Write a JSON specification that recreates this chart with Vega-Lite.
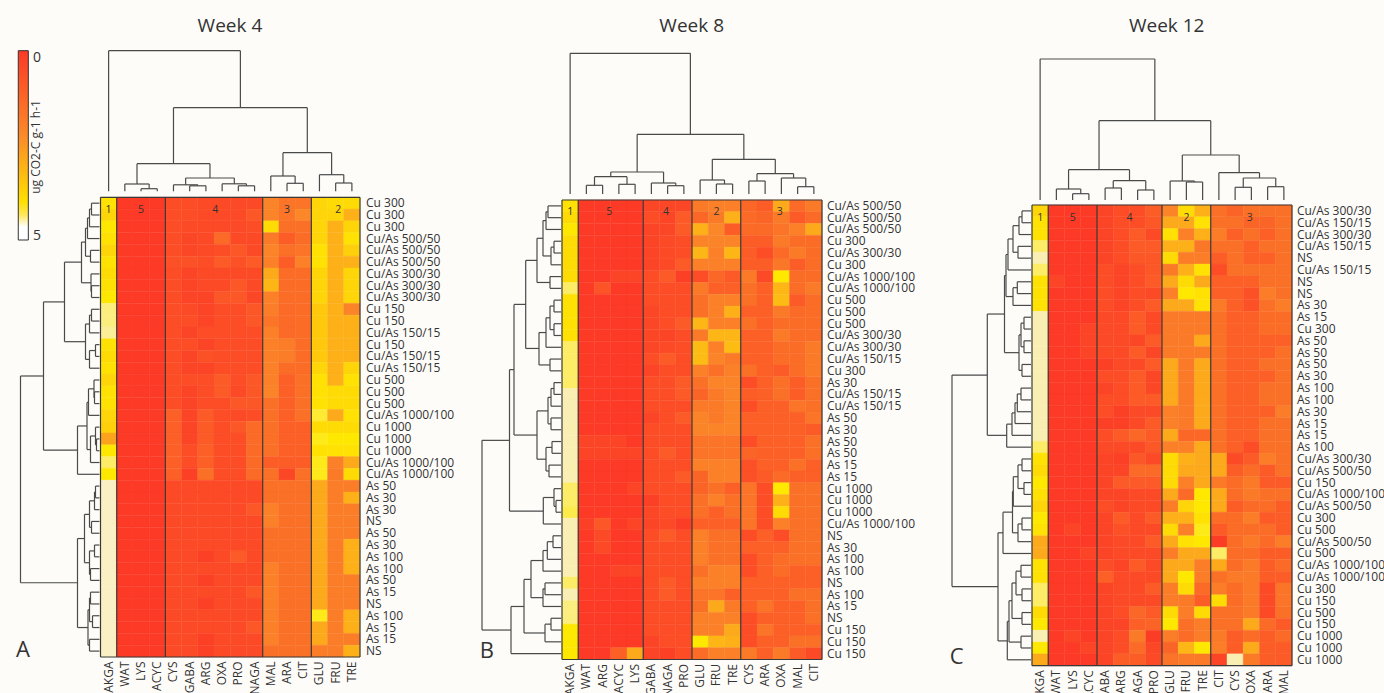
{"$schema":"https://vega.github.io/schema/vega-lite/v6.json","background":"#fdfcf9","padding":0,"bounds":"flush","spacing":0,"config":{"view":{"stroke":null},"font":"Open Sans"},
"datasets":{
"A":[
{"r":0,"l":"Cu 300","AKGA":3.9,"WAT":0,"LYS":0,"ACYC":0,"CYS":0.6,"GABA":0.6,"ARG":0.5,"OXA":0.5,"PRO":0.5,"NAGA":0.5,"MAL":2.3,"ARA":1.8,"CIT":1.8,"GLU":3.7,"FRU":3.8,"TRE":3.8},
{"r":1,"l":"Cu 300","AKGA":3.7,"WAT":0,"LYS":0,"ACYC":0,"CYS":0.6,"GABA":0.6,"ARG":0.5,"OXA":0.5,"PRO":0.5,"NAGA":0.9,"MAL":2.3,"ARA":1.8,"CIT":2.4,"GLU":3.7,"FRU":3.7,"TRE":3.1},
{"r":2,"l":"Cu 300","AKGA":4,"WAT":0,"LYS":0,"ACYC":0,"CYS":0.6,"GABA":0.5,"ARG":0.5,"OXA":0.5,"PRO":0.5,"NAGA":0.6,"MAL":3.8,"ARA":1.7,"CIT":1.7,"GLU":3.7,"FRU":3.1,"TRE":3.7},
{"r":3,"l":"Cu/As 500/50","AKGA":3.9,"WAT":0,"LYS":0,"ACYC":0,"CYS":0.6,"GABA":0.4,"ARG":0.5,"OXA":1.5,"PRO":0.5,"NAGA":0.5,"MAL":2,"ARA":1.1,"CIT":1.6,"GLU":3.7,"FRU":3.1,"TRE":3.9},
{"r":4,"l":"Cu/As 500/50","AKGA":3.7,"WAT":0,"LYS":0,"ACYC":0,"CYS":0.6,"GABA":0.4,"ARG":0.5,"OXA":0.6,"PRO":0.9,"NAGA":0.5,"MAL":2.3,"ARA":1.7,"CIT":1.8,"GLU":3.9,"FRU":3.1,"TRE":3.6},
{"r":5,"l":"Cu/As 500/50","AKGA":3.9,"WAT":0,"LYS":0,"ACYC":0,"CYS":0.7,"GABA":0.7,"ARG":0.6,"OXA":1,"PRO":0.7,"NAGA":1,"MAL":2.2,"ARA":1.1,"CIT":2.2,"GLU":3.9,"FRU":3.1,"TRE":3.1},
{"r":6,"l":"Cu/As 300/30","AKGA":3.8,"WAT":0,"LYS":0,"ACYC":0,"CYS":0.6,"GABA":0.3,"ARG":0.5,"OXA":0.5,"PRO":0.5,"NAGA":0.5,"MAL":3,"ARA":1.6,"CIT":1.6,"GLU":3.7,"FRU":3.1,"TRE":3.7},
{"r":7,"l":"Cu/As 300/30","AKGA":3.9,"WAT":0,"LYS":0,"ACYC":0,"CYS":0.6,"GABA":0.3,"ARG":0.5,"OXA":0.5,"PRO":0.9,"NAGA":0.5,"MAL":3.2,"ARA":1.6,"CIT":1.6,"GLU":3.7,"FRU":3.1,"TRE":3.7},
{"r":8,"l":"Cu/As 300/30","AKGA":4,"WAT":0,"LYS":0,"ACYC":0,"CYS":0.6,"GABA":0.3,"ARG":0.3,"OXA":0.9,"PRO":0.9,"NAGA":0.4,"MAL":2.2,"ARA":1.6,"CIT":1.6,"GLU":3.7,"FRU":3.1,"TRE":3.7},
{"r":9,"l":"Cu 150","AKGA":4.5,"WAT":0,"LYS":0,"ACYC":0,"CYS":0.6,"GABA":0.5,"ARG":0.3,"OXA":0.6,"PRO":0.6,"NAGA":0.9,"MAL":2.1,"ARA":1.5,"CIT":1.6,"GLU":3.5,"FRU":3.1,"TRE":2.3},
{"r":10,"l":"Cu 150","AKGA":4.5,"WAT":0,"LYS":0,"ACYC":0,"CYS":0.6,"GABA":0.6,"ARG":0.3,"OXA":0.6,"PRO":0.6,"NAGA":0.9,"MAL":1.8,"ARA":1.5,"CIT":1.6,"GLU":3.5,"FRU":3.1,"TRE":3.1},
{"r":11,"l":"Cu/As 150/15","AKGA":4.6,"WAT":0,"LYS":0,"ACYC":0,"CYS":0.6,"GABA":0.3,"ARG":0.6,"OXA":0.6,"PRO":0.6,"NAGA":0.6,"MAL":2.2,"ARA":1.5,"CIT":1.6,"GLU":3.5,"FRU":3.1,"TRE":3.1},
{"r":12,"l":"Cu 150","AKGA":3.9,"WAT":0,"LYS":0,"ACYC":0,"CYS":0.6,"GABA":0.6,"ARG":0.3,"OXA":0.6,"PRO":0.6,"NAGA":0.6,"MAL":2.2,"ARA":2.1,"CIT":1.6,"GLU":3.5,"FRU":3.1,"TRE":3.1},
{"r":13,"l":"Cu/As 150/15","AKGA":3.8,"WAT":0,"LYS":0,"ACYC":0,"CYS":0.6,"GABA":0.3,"ARG":0.7,"OXA":0.6,"PRO":0.6,"NAGA":0.6,"MAL":2.2,"ARA":2.1,"CIT":1.6,"GLU":3.5,"FRU":3.1,"TRE":3.1},
{"r":14,"l":"Cu/As 150/15","AKGA":3.9,"WAT":0,"LYS":0,"ACYC":0,"CYS":0.6,"GABA":0.3,"ARG":0.3,"OXA":0.6,"PRO":0.6,"NAGA":0.6,"MAL":2.2,"ARA":1.6,"CIT":1.6,"GLU":3.7,"FRU":3.1,"TRE":3.7},
{"r":15,"l":"Cu 500","AKGA":3.7,"WAT":0,"LYS":0,"ACYC":0,"CYS":0.6,"GABA":0.6,"ARG":0.6,"OXA":1,"PRO":0.6,"NAGA":0.9,"MAL":2.2,"ARA":1.2,"CIT":1.7,"GLU":3.9,"FRU":3.1,"TRE":3.9},
{"r":16,"l":"Cu 500","AKGA":3.9,"WAT":0,"LYS":0,"ACYC":0,"CYS":0.6,"GABA":0.3,"ARG":0.6,"OXA":1,"PRO":0.5,"NAGA":0.9,"MAL":2.3,"ARA":1.2,"CIT":1.7,"GLU":3.9,"FRU":3.8,"TRE":3.8},
{"r":17,"l":"Cu 500","AKGA":3.9,"WAT":0,"LYS":0,"ACYC":0,"CYS":0.6,"GABA":0.3,"ARG":0.6,"OXA":0.6,"PRO":0.9,"NAGA":0.9,"MAL":1.7,"ARA":1.2,"CIT":1.7,"GLU":3.9,"FRU":3.8,"TRE":3.8},
{"r":18,"l":"Cu/As 1000/100","AKGA":3.7,"WAT":0,"LYS":0,"ACYC":0,"CYS":1.2,"GABA":0.3,"ARG":1,"OXA":0.6,"PRO":0.5,"NAGA":0.6,"MAL":1.7,"ARA":1.2,"CIT":1.7,"GLU":4.2,"FRU":3,"TRE":3.9},
{"r":19,"l":"Cu 1000","AKGA":3.6,"WAT":0,"LYS":0,"ACYC":0,"CYS":1.2,"GABA":0.3,"ARG":1,"OXA":0.6,"PRO":0.9,"NAGA":1.5,"MAL":1.7,"ARA":1.2,"CIT":1.2,"GLU":3.8,"FRU":3.8,"TRE":3.8},
{"r":20,"l":"Cu 1000","AKGA":2.9,"WAT":0,"LYS":0,"ACYC":0,"CYS":1.2,"GABA":0.3,"ARG":1,"OXA":0.6,"PRO":0.6,"NAGA":1.5,"MAL":1.7,"ARA":1.2,"CIT":1.2,"GLU":4.1,"FRU":4,"TRE":4},
{"r":21,"l":"Cu 1000","AKGA":4,"WAT":0,"LYS":0,"ACYC":0,"CYS":1.2,"GABA":0.6,"ARG":1.2,"OXA":0.6,"PRO":0.6,"NAGA":1.5,"MAL":1.7,"ARA":1.2,"CIT":1.2,"GLU":3.9,"FRU":3.9,"TRE":3.9},
{"r":22,"l":"Cu/As 1000/100","AKGA":4.4,"WAT":0,"LYS":0,"ACYC":0,"CYS":1.2,"GABA":0.6,"ARG":1.2,"OXA":0.6,"PRO":0.6,"NAGA":1.5,"MAL":1.1,"ARA":1.1,"CIT":1.1,"GLU":4.1,"FRU":2.2,"TRE":3},
{"r":23,"l":"Cu/As 1000/100","AKGA":4,"WAT":0,"LYS":0,"ACYC":0,"CYS":1.2,"GABA":0.2,"ARG":1.7,"OXA":0.6,"PRO":0.6,"NAGA":1.5,"MAL":1.7,"ARA":0.4,"CIT":1.7,"GLU":4.1,"FRU":2,"TRE":3.8},
{"r":24,"l":"As 50","AKGA":4.77,"WAT":0,"LYS":0,"ACYC":0,"CYS":0.5,"GABA":0.5,"ARG":0.5,"OXA":0.5,"PRO":0.5,"NAGA":0.5,"MAL":1.7,"ARA":1.7,"CIT":1.7,"GLU":3,"FRU":2.1,"TRE":2.1},
{"r":25,"l":"As 30","AKGA":4.77,"WAT":0,"LYS":0,"ACYC":0,"CYS":0.5,"GABA":0.5,"ARG":0.5,"OXA":0.5,"PRO":0.5,"NAGA":0.5,"MAL":1.7,"ARA":1.7,"CIT":1.7,"GLU":3,"FRU":2.1,"TRE":3.1},
{"r":26,"l":"As 30","AKGA":4.77,"WAT":0,"LYS":0,"ACYC":0,"CYS":0.5,"GABA":0.5,"ARG":0.5,"OXA":0.5,"PRO":0.5,"NAGA":0.9,"MAL":2.2,"ARA":1.7,"CIT":1.7,"GLU":3,"FRU":2.1,"TRE":2.1},
{"r":27,"l":"NS","AKGA":4.77,"WAT":0,"LYS":0,"ACYC":0,"CYS":0.5,"GABA":0.5,"ARG":0.5,"OXA":0.5,"PRO":0.5,"NAGA":0.5,"MAL":2.2,"ARA":1.7,"CIT":1.7,"GLU":3,"FRU":2.1,"TRE":2.1},
{"r":28,"l":"As 50","AKGA":4.77,"WAT":0,"LYS":0,"ACYC":0,"CYS":0.5,"GABA":0.5,"ARG":0.5,"OXA":0.5,"PRO":0.5,"NAGA":0.5,"MAL":1.7,"ARA":1.7,"CIT":1.7,"GLU":3,"FRU":2.1,"TRE":2.1},
{"r":29,"l":"As 30","AKGA":4.77,"WAT":0,"LYS":0,"ACYC":0,"CYS":0.5,"GABA":0.5,"ARG":0.5,"OXA":0.5,"PRO":0.5,"NAGA":0.5,"MAL":1.7,"ARA":1.7,"CIT":1.7,"GLU":3,"FRU":2.1,"TRE":3.1},
{"r":30,"l":"As 100","AKGA":4.77,"WAT":0,"LYS":0,"ACYC":0,"CYS":0.5,"GABA":0.5,"ARG":0.2,"OXA":0.5,"PRO":1,"NAGA":0.5,"MAL":1.7,"ARA":1.7,"CIT":1.7,"GLU":3,"FRU":2.1,"TRE":3.1},
{"r":31,"l":"As 100","AKGA":4.77,"WAT":0,"LYS":0,"ACYC":0,"CYS":0.5,"GABA":0.5,"ARG":0.5,"OXA":0.5,"PRO":0.5,"NAGA":0.5,"MAL":2.2,"ARA":1.7,"CIT":1.7,"GLU":3,"FRU":2.1,"TRE":3.1},
{"r":32,"l":"As 50","AKGA":4.77,"WAT":0,"LYS":0,"ACYC":0,"CYS":0.5,"GABA":0.5,"ARG":0.2,"OXA":0.5,"PRO":0.5,"NAGA":0.5,"MAL":2.2,"ARA":1.7,"CIT":1.7,"GLU":3,"FRU":2.1,"TRE":2.1},
{"r":33,"l":"As 15","AKGA":4.77,"WAT":0,"LYS":0,"ACYC":0,"CYS":0.5,"GABA":0.5,"ARG":0.5,"OXA":0.5,"PRO":0.5,"NAGA":0.9,"MAL":2.2,"ARA":1.7,"CIT":1.7,"GLU":3,"FRU":2.1,"TRE":2.1},
{"r":34,"l":"NS","AKGA":4.77,"WAT":0,"LYS":0,"ACYC":0,"CYS":0.5,"GABA":0.5,"ARG":0.2,"OXA":0.5,"PRO":0.5,"NAGA":0.5,"MAL":2.2,"ARA":1.7,"CIT":1.7,"GLU":3,"FRU":2.1,"TRE":2.1},
{"r":35,"l":"As 100","AKGA":4.77,"WAT":0,"LYS":0,"ACYC":0,"CYS":0.5,"GABA":0.5,"ARG":0.5,"OXA":0.5,"PRO":0.5,"NAGA":0.5,"MAL":2.2,"ARA":1.7,"CIT":1.7,"GLU":4.1,"FRU":2.1,"TRE":3.1},
{"r":36,"l":"As 15","AKGA":4.77,"WAT":0,"LYS":0,"ACYC":0,"CYS":0.5,"GABA":0.5,"ARG":0.5,"OXA":0.5,"PRO":0.5,"NAGA":0.9,"MAL":2.2,"ARA":1.7,"CIT":1.7,"GLU":3,"FRU":2.1,"TRE":3.1},
{"r":37,"l":"As 15","AKGA":4.77,"WAT":0,"LYS":0,"ACYC":0,"CYS":0.5,"GABA":0.5,"ARG":0.2,"OXA":0.5,"PRO":0.5,"NAGA":0.5,"MAL":2.2,"ARA":1.7,"CIT":1.7,"GLU":3,"FRU":2.1,"TRE":2.1},
{"r":38,"l":"NS","AKGA":4.77,"WAT":0,"LYS":0,"ACYC":0,"CYS":0.5,"GABA":0.5,"ARG":0.2,"OXA":0.5,"PRO":0.5,"NAGA":0.5,"MAL":1.7,"ARA":1.7,"CIT":1.7,"GLU":2.1,"FRU":2.1,"TRE":3.1}
],
"B":[
{"r":0,"l":"Cu/As 500/50","AKGA":3.9,"WAT":0,"ARG":0,"ACYC":0,"LYS":0,"GABA":0.4,"NAGA":0.4,"PRO":0.4,"GLU":2,"FRU":2.2,"TRE":2.2,"CYS":1.4,"ARA":1.1,"OXA":3,"MAL":1.5,"CIT":2},
{"r":1,"l":"Cu/As 500/50","AKGA":3.8,"WAT":0,"ARG":0,"ACYC":0,"LYS":0,"GABA":0.6,"NAGA":0.3,"PRO":1,"GLU":1.4,"FRU":2,"TRE":3.1,"CYS":1.5,"ARA":1.3,"OXA":2,"MAL":1,"CIT":1.5},
{"r":2,"l":"Cu/As 500/50","AKGA":4,"WAT":0,"ARG":0,"ACYC":0,"LYS":0,"GABA":0.3,"NAGA":0.4,"PRO":1,"GLU":3.1,"FRU":2.4,"TRE":1.1,"CYS":1.5,"ARA":1.5,"OXA":1.8,"MAL":2.2,"CIT":3},
{"r":3,"l":"Cu 300","AKGA":3.8,"WAT":0,"ARG":0,"ACYC":0,"LYS":0,"GABA":0.3,"NAGA":0.5,"PRO":0.6,"GLU":2.3,"FRU":2.3,"TRE":2.3,"CYS":1.1,"ARA":1.1,"OXA":2,"MAL":1.6,"CIT":1.6},
{"r":4,"l":"Cu/As 300/30","AKGA":3.8,"WAT":0,"ARG":0,"ACYC":0,"LYS":0,"GABA":0.3,"NAGA":0.5,"PRO":0.6,"GLU":3.2,"FRU":2.2,"TRE":3.2,"CYS":1.1,"ARA":0.6,"OXA":1.5,"MAL":2,"CIT":1.6},
{"r":5,"l":"Cu 300","AKGA":3.8,"WAT":0,"ARG":0,"ACYC":0,"LYS":0,"GABA":0.3,"NAGA":0.5,"PRO":1,"GLU":2.2,"FRU":2.2,"TRE":2.2,"CYS":1.1,"ARA":1.1,"OXA":1.9,"MAL":1.1,"CIT":1.6},
{"r":6,"l":"Cu/As 1000/100","AKGA":3.8,"WAT":0,"ARG":0,"ACYC":0.3,"LYS":0.3,"GABA":0.6,"NAGA":1,"PRO":0.2,"GLU":0.6,"FRU":1.4,"TRE":1,"CYS":2,"ARA":0.5,"OXA":4,"MAL":1.6,"CIT":1.6},
{"r":7,"l":"Cu/As 1000/100","AKGA":4.4,"WAT":0,"ARG":0.8,"ACYC":0,"LYS":0,"GABA":0.6,"NAGA":0.6,"PRO":0.6,"GLU":2,"FRU":1.2,"TRE":1.2,"CYS":1.7,"ARA":1.2,"OXA":3.2,"MAL":1.6,"CIT":2},
{"r":8,"l":"Cu 500","AKGA":3.9,"WAT":0,"ARG":0,"ACYC":0,"LYS":0,"GABA":0.6,"NAGA":0.6,"PRO":0.6,"GLU":1.7,"FRU":2.2,"TRE":2.2,"CYS":1.7,"ARA":1.2,"OXA":3.3,"MAL":1,"CIT":1.6},
{"r":9,"l":"Cu 500","AKGA":3.9,"WAT":0,"ARG":0,"ACYC":0,"LYS":0,"GABA":0.4,"NAGA":0.6,"PRO":0.6,"GLU":1.7,"FRU":2.2,"TRE":3.1,"CYS":1.2,"ARA":1.2,"OXA":2,"MAL":1.5,"CIT":1.6},
{"r":10,"l":"Cu 500","AKGA":3.9,"WAT":0,"ARG":0,"ACYC":0,"LYS":0,"GABA":0.4,"NAGA":0.6,"PRO":1,"GLU":3.2,"FRU":2.2,"TRE":2.2,"CYS":1.7,"ARA":1.2,"OXA":1.6,"MAL":1.6,"CIT":1.6},
{"r":11,"l":"Cu/As 300/30","AKGA":3.9,"WAT":0,"ARG":0,"ACYC":0,"LYS":0,"GABA":0.4,"NAGA":0.3,"PRO":0.6,"GLU":2,"FRU":3.2,"TRE":3.2,"CYS":1.2,"ARA":1.2,"OXA":2,"MAL":1.6,"CIT":1.6},
{"r":12,"l":"Cu/As 300/30","AKGA":4.4,"WAT":0,"ARG":0,"ACYC":0,"LYS":0,"GABA":0.4,"NAGA":0.5,"PRO":0.6,"GLU":3.3,"FRU":2.2,"TRE":3.3,"CYS":1.2,"ARA":1.2,"OXA":1.6,"MAL":1.6,"CIT":2},
{"r":13,"l":"Cu/As 150/15","AKGA":4.4,"WAT":0,"ARG":0,"ACYC":0,"LYS":0,"GABA":0.6,"NAGA":1,"PRO":0.6,"GLU":3.3,"FRU":2.3,"TRE":2,"CYS":1.2,"ARA":1.2,"OXA":1.6,"MAL":1.6,"CIT":2},
{"r":14,"l":"Cu 300","AKGA":4.4,"WAT":0,"ARG":0,"ACYC":0,"LYS":0,"GABA":0.3,"NAGA":0.6,"PRO":0.6,"GLU":2.2,"FRU":1.7,"TRE":2.2,"CYS":1.7,"ARA":1.2,"OXA":1,"MAL":1.6,"CIT":2},
{"r":15,"l":"As 30","AKGA":4.4,"WAT":0,"ARG":0,"ACYC":0,"LYS":0,"GABA":0.6,"NAGA":0.6,"PRO":1,"GLU":1.7,"FRU":2.3,"TRE":2.3,"CYS":0.6,"ARA":1.2,"OXA":1.7,"MAL":1.1,"CIT":1.7},
{"r":16,"l":"Cu/As 150/15","AKGA":4.7,"WAT":0,"ARG":0,"ACYC":0,"LYS":0,"GABA":0.6,"NAGA":0.6,"PRO":1,"GLU":1.3,"FRU":2,"TRE":2.3,"CYS":1.1,"ARA":1.2,"OXA":1.7,"MAL":1.1,"CIT":1.7},
{"r":17,"l":"Cu/As 150/15","AKGA":4.7,"WAT":0,"ARG":0,"ACYC":0,"LYS":0,"GABA":0.6,"NAGA":0.6,"PRO":0.6,"GLU":2,"FRU":2,"TRE":2.3,"CYS":0.6,"ARA":1.2,"OXA":1.2,"MAL":1.8,"CIT":1.7},
{"r":18,"l":"As 50","AKGA":4.7,"WAT":0,"ARG":0,"ACYC":0,"LYS":0,"GABA":0.3,"NAGA":0.6,"PRO":1,"GLU":2.3,"FRU":2,"TRE":2.3,"CYS":1.2,"ARA":1.2,"OXA":1.2,"MAL":1.2,"CIT":1.8},
{"r":19,"l":"As 30","AKGA":4.7,"WAT":0,"ARG":0,"ACYC":0,"LYS":0,"GABA":0.6,"NAGA":0.6,"PRO":0.6,"GLU":2.3,"FRU":2.3,"TRE":2.3,"CYS":1.2,"ARA":1.2,"OXA":1.2,"MAL":1.2,"CIT":1},
{"r":20,"l":"As 50","AKGA":4.7,"WAT":0.3,"ARG":0.3,"ACYC":0.3,"LYS":0,"GABA":0.6,"NAGA":0.6,"PRO":0.6,"GLU":1.8,"FRU":1.8,"TRE":1.8,"CYS":0.6,"ARA":1.2,"OXA":1.2,"MAL":1.2,"CIT":1.7},
{"r":21,"l":"As 50","AKGA":4.7,"WAT":0.3,"ARG":0.3,"ACYC":0.3,"LYS":0.3,"GABA":0.6,"NAGA":1,"PRO":0.6,"GLU":1.8,"FRU":1.8,"TRE":1.8,"CYS":1.3,"ARA":1.2,"OXA":1.2,"MAL":1.2,"CIT":1.7},
{"r":22,"l":"As 15","AKGA":4.7,"WAT":0,"ARG":0,"ACYC":0,"LYS":0,"GABA":0.6,"NAGA":0.6,"PRO":0.6,"GLU":2.2,"FRU":2.2,"TRE":2.2,"CYS":0.7,"ARA":1.2,"OXA":1.2,"MAL":1.7,"CIT":1.2},
{"r":23,"l":"As 15","AKGA":4.7,"WAT":0,"ARG":0,"ACYC":0,"LYS":0,"GABA":0.6,"NAGA":0.6,"PRO":1,"GLU":1.3,"FRU":2.2,"TRE":2.2,"CYS":0.7,"ARA":1,"OXA":1.5,"MAL":1.2,"CIT":1.2},
{"r":24,"l":"Cu 1000","AKGA":4.4,"WAT":0,"ARG":0,"ACYC":0,"LYS":0.3,"GABA":0.6,"NAGA":0.6,"PRO":0.6,"GLU":1.3,"FRU":1.7,"TRE":1.2,"CYS":1.8,"ARA":0.6,"OXA":4,"MAL":1.7,"CIT":1.7},
{"r":25,"l":"Cu 1000","AKGA":4.4,"WAT":0,"ARG":0,"ACYC":0,"LYS":0,"GABA":0.2,"NAGA":0.6,"PRO":0.6,"GLU":1.7,"FRU":2.2,"TRE":1.7,"CYS":1.8,"ARA":0.6,"OXA":3.1,"MAL":1.7,"CIT":1.7},
{"r":26,"l":"Cu 1000","AKGA":4.3,"WAT":0,"ARG":0,"ACYC":0,"LYS":0,"GABA":0.4,"NAGA":0.6,"PRO":0.6,"GLU":1.7,"FRU":1.2,"TRE":1.7,"CYS":1.8,"ARA":0.6,"OXA":3.8,"MAL":1.7,"CIT":1.7},
{"r":27,"l":"Cu/As 1000/100","AKGA":4.7,"WAT":0.2,"ARG":0.9,"ACYC":0,"LYS":0.3,"GABA":0.3,"NAGA":0.5,"PRO":0.1,"GLU":1.2,"FRU":1.2,"TRE":1.2,"CYS":1.8,"ARA":0.6,"OXA":2.2,"MAL":1.7,"CIT":1.7},
{"r":28,"l":"NS","AKGA":4.7,"WAT":0,"ARG":0.5,"ACYC":0,"LYS":0,"GABA":0.6,"NAGA":1,"PRO":0.6,"GLU":2.2,"FRU":1.7,"TRE":1.7,"CYS":0.6,"ARA":1.2,"OXA":0.6,"MAL":1.7,"CIT":1.7},
{"r":29,"l":"As 30","AKGA":4.7,"WAT":0,"ARG":0.5,"ACYC":0,"LYS":0,"GABA":0.6,"NAGA":0.6,"PRO":0.6,"GLU":2.2,"FRU":1.7,"TRE":1.7,"CYS":1.2,"ARA":1.2,"OXA":1.2,"MAL":1.7,"CIT":1.7},
{"r":30,"l":"As 100","AKGA":4.7,"WAT":0,"ARG":0,"ACYC":0,"LYS":0,"GABA":0.6,"NAGA":0.6,"PRO":0.6,"GLU":2.2,"FRU":1.7,"TRE":1.7,"CYS":0.6,"ARA":1.2,"OXA":1.6,"MAL":1.7,"CIT":1.7},
{"r":31,"l":"As 100","AKGA":4.7,"WAT":0,"ARG":0,"ACYC":0.3,"LYS":0.3,"GABA":0.6,"NAGA":0.6,"PRO":0.6,"GLU":1.7,"FRU":2.2,"TRE":2.2,"CYS":0.6,"ARA":1.2,"OXA":1.6,"MAL":1.2,"CIT":1.2},
{"r":32,"l":"NS","AKGA":4.4,"WAT":0,"ARG":0,"ACYC":0,"LYS":0,"GABA":0.6,"NAGA":1,"PRO":0.6,"GLU":2.2,"FRU":2.2,"TRE":2.2,"CYS":1.2,"ARA":1.2,"OXA":1.2,"MAL":1.2,"CIT":1.2},
{"r":33,"l":"As 100","AKGA":4.7,"WAT":0,"ARG":0,"ACYC":0,"LYS":0,"GABA":0.6,"NAGA":1,"PRO":0.6,"GLU":1.8,"FRU":1.8,"TRE":1.2,"CYS":1.2,"ARA":1.2,"OXA":1.2,"MAL":1.7,"CIT":1.7},
{"r":34,"l":"As 15","AKGA":4.5,"WAT":0,"ARG":0,"ACYC":0,"LYS":0,"GABA":0.6,"NAGA":0.6,"PRO":0.6,"GLU":1.7,"FRU":3,"TRE":2,"CYS":1.2,"ARA":1.8,"OXA":1.2,"MAL":1.2,"CIT":1.7},
{"r":35,"l":"NS","AKGA":4.5,"WAT":0,"ARG":0,"ACYC":0,"LYS":0,"GABA":0.6,"NAGA":0.6,"PRO":0.6,"GLU":2.2,"FRU":2.2,"TRE":2.2,"CYS":0.6,"ARA":1.2,"OXA":1.2,"MAL":1.2,"CIT":1.7},
{"r":36,"l":"Cu 150","AKGA":4,"WAT":0,"ARG":0,"ACYC":0,"LYS":0,"GABA":0.6,"NAGA":0.6,"PRO":0.6,"GLU":2.2,"FRU":2.2,"TRE":3,"CYS":0.6,"ARA":1.8,"OXA":1.2,"MAL":1.2,"CIT":1.2},
{"r":37,"l":"Cu 150","AKGA":4,"WAT":0,"ARG":0,"ACYC":0,"LYS":0,"GABA":0.3,"NAGA":0.6,"PRO":0.6,"GLU":4,"FRU":3.2,"TRE":3.1,"CYS":0.6,"ARA":1.2,"OXA":1.2,"MAL":1.7,"CIT":1.7},
{"r":38,"l":"Cu 150","AKGA":4,"WAT":0,"ARG":0,"ACYC":1.2,"LYS":3,"GABA":0.3,"NAGA":0.2,"PRO":0.6,"GLU":1.6,"FRU":2.2,"TRE":2.2,"CYS":2,"ARA":1.2,"OXA":2,"MAL":1,"CIT":0.5}
],
"C":[
{"r":0,"l":"Cu/As 300/30","AKGA":3.7,"WAT":0,"LYS":0,"ACYC":0,"GABA":0.3,"ARG":0.6,"NAGA":0.6,"PRO":1.1,"GLU":2.3,"FRU":3.8,"TRE":3.1,"CIT":1.7,"CYS":1.3,"OXA":1.7,"ARA":1.7,"MAL":1.7},
{"r":1,"l":"Cu/As 150/15","AKGA":3.9,"WAT":0,"LYS":0,"ACYC":0,"GABA":0.3,"ARG":0.6,"NAGA":0.6,"PRO":0.9,"GLU":3,"FRU":3,"TRE":3.9,"CIT":1.7,"CYS":1.7,"OXA":1.3,"ARA":1.3,"MAL":1.7},
{"r":2,"l":"Cu/As 300/30","AKGA":3.9,"WAT":0,"LYS":0,"ACYC":0,"GABA":0.3,"ARG":0.6,"NAGA":1,"PRO":0.5,"GLU":3.9,"FRU":2.2,"TRE":3.1,"CIT":2.1,"CYS":1.2,"OXA":1.7,"ARA":1.2,"MAL":1.7},
{"r":3,"l":"Cu/As 150/15","AKGA":4.4,"WAT":0,"LYS":0,"ACYC":0,"GABA":0.3,"ARG":0.6,"NAGA":1,"PRO":1,"GLU":3.1,"FRU":3.1,"TRE":1.9,"CIT":1.7,"CYS":1.7,"OXA":1.2,"ARA":1.7,"MAL":1.7},
{"r":4,"l":"NS","AKGA":4.7,"WAT":0,"LYS":0,"ACYC":0,"GABA":0.3,"ARG":0.6,"NAGA":0.9,"PRO":0.9,"GLU":3.8,"FRU":2.1,"TRE":2.1,"CIT":1.1,"CYS":1.7,"OXA":1.2,"ARA":1.2,"MAL":1.7},
{"r":5,"l":"Cu/As 150/15","AKGA":4.4,"WAT":0,"LYS":0,"ACYC":0,"GABA":0.6,"ARG":0.3,"NAGA":0.6,"PRO":0.9,"GLU":2,"FRU":3.1,"TRE":3.9,"CIT":0.6,"CYS":1.7,"OXA":1.7,"ARA":1.7,"MAL":1.7},
{"r":6,"l":"NS","AKGA":3.9,"WAT":0.3,"LYS":0,"ACYC":0,"GABA":0.6,"ARG":0.3,"NAGA":0.6,"PRO":1,"GLU":3,"FRU":3.8,"TRE":3,"CIT":1.2,"CYS":1.2,"OXA":1.2,"ARA":1.7,"MAL":1.7},
{"r":7,"l":"NS","AKGA":3.9,"WAT":0,"LYS":0,"ACYC":0,"GABA":0.6,"ARG":0.3,"NAGA":0.6,"PRO":0.5,"GLU":2.2,"FRU":4,"TRE":3.9,"CIT":1.2,"CYS":1.2,"OXA":0.7,"ARA":2.1,"MAL":1.7},
{"r":8,"l":"As 30","AKGA":3.9,"WAT":0,"LYS":0,"ACYC":0,"GABA":0.6,"ARG":0.3,"NAGA":0.6,"PRO":1,"GLU":3,"FRU":3,"TRE":3.9,"CIT":2,"CYS":1.2,"OXA":0.7,"ARA":1.7,"MAL":2.1},
{"r":9,"l":"As 15","AKGA":4.7,"WAT":0,"LYS":0,"ACYC":0,"GABA":0.5,"ARG":0.5,"NAGA":1,"PRO":0.5,"GLU":2,"FRU":2,"TRE":2,"CIT":1.7,"CYS":1.2,"OXA":1.2,"ARA":1.6,"MAL":1.6},
{"r":10,"l":"Cu 300","AKGA":4.7,"WAT":0,"LYS":0,"ACYC":0.3,"GABA":0.5,"ARG":0.5,"NAGA":1,"PRO":0.5,"GLU":2,"FRU":2,"TRE":2,"CIT":1.7,"CYS":1.2,"OXA":1.2,"ARA":1.6,"MAL":1.6},
{"r":11,"l":"As 50","AKGA":4.7,"WAT":0,"LYS":0,"ACYC":0.3,"GABA":0.5,"ARG":0.5,"NAGA":0.4,"PRO":1,"GLU":2,"FRU":2,"TRE":3,"CIT":1.7,"CYS":1.2,"OXA":1.2,"ARA":1.2,"MAL":1.2},
{"r":12,"l":"As 50","AKGA":4.7,"WAT":0,"LYS":0,"ACYC":0.3,"GABA":0.5,"ARG":0.5,"NAGA":1,"PRO":0.4,"GLU":2,"FRU":2,"TRE":2,"CIT":1.7,"CYS":1.2,"OXA":1.2,"ARA":1.2,"MAL":1.7},
{"r":13,"l":"As 50","AKGA":4.7,"WAT":0,"LYS":0,"ACYC":0,"GABA":0.2,"ARG":0.5,"NAGA":0.5,"PRO":1,"GLU":3,"FRU":2,"TRE":3,"CIT":1.7,"CYS":1.2,"OXA":1.2,"ARA":1.7,"MAL":1.7},
{"r":14,"l":"As 30","AKGA":4.7,"WAT":0,"LYS":0,"ACYC":0,"GABA":0.6,"ARG":0.6,"NAGA":1,"PRO":0.4,"GLU":3,"FRU":2,"TRE":3,"CIT":1.7,"CYS":1.2,"OXA":1.2,"ARA":1.2,"MAL":1.7},
{"r":15,"l":"As 100","AKGA":4.7,"WAT":0,"LYS":0,"ACYC":0,"GABA":0.3,"ARG":0.6,"NAGA":1,"PRO":0.4,"GLU":3,"FRU":2,"TRE":3,"CIT":1.7,"CYS":1.2,"OXA":1.2,"ARA":1.7,"MAL":1.7},
{"r":16,"l":"As 100","AKGA":4.7,"WAT":0,"LYS":0,"ACYC":0,"GABA":0.6,"ARG":0.6,"NAGA":1,"PRO":1,"GLU":3,"FRU":2,"TRE":3,"CIT":1.7,"CYS":1.2,"OXA":1.2,"ARA":1.7,"MAL":1.7},
{"r":17,"l":"As 30","AKGA":4.7,"WAT":0,"LYS":0,"ACYC":0,"GABA":0.6,"ARG":0.2,"NAGA":0.5,"PRO":0.5,"GLU":2.2,"FRU":2,"TRE":3,"CIT":1.7,"CYS":1.2,"OXA":1.2,"ARA":1.2,"MAL":2.1},
{"r":18,"l":"As 15","AKGA":4.7,"WAT":0,"LYS":0,"ACYC":0,"GABA":0.2,"ARG":0.2,"NAGA":0.5,"PRO":1,"GLU":2.2,"FRU":2,"TRE":3,"CIT":1.7,"CYS":1.2,"OXA":1.2,"ARA":1.7,"MAL":1.7},
{"r":19,"l":"As 15","AKGA":4.7,"WAT":0,"LYS":0,"ACYC":0,"GABA":0.6,"ARG":1,"NAGA":1.4,"PRO":1,"GLU":3,"FRU":1.4,"TRE":1.4,"CIT":1.7,"CYS":1.2,"OXA":1.2,"ARA":1.7,"MAL":1.7},
{"r":20,"l":"As 100","AKGA":4.4,"WAT":0,"LYS":0,"ACYC":0,"GABA":0.5,"ARG":0.5,"NAGA":0.5,"PRO":0.9,"GLU":2.2,"FRU":2.2,"TRE":3,"CIT":1.7,"CYS":1.2,"OXA":0.6,"ARA":1.7,"MAL":1.7},
{"r":21,"l":"Cu/As 300/30","AKGA":3.9,"WAT":0,"LYS":0,"ACYC":0,"GABA":0.3,"ARG":0.2,"NAGA":0.9,"PRO":0.5,"GLU":3.8,"FRU":3.1,"TRE":3,"CIT":3,"CYS":0.5,"OXA":1,"ARA":2.1,"MAL":1.7},
{"r":22,"l":"Cu/As 500/50","AKGA":3.8,"WAT":0,"LYS":0,"ACYC":0,"GABA":0.3,"ARG":0.3,"NAGA":1.5,"PRO":1.5,"GLU":3.8,"FRU":3,"TRE":3,"CIT":3,"CYS":1.1,"OXA":1.6,"ARA":1,"MAL":1.7},
{"r":23,"l":"Cu 150","AKGA":4,"WAT":0,"LYS":0,"ACYC":0,"GABA":0.3,"ARG":1,"NAGA":1,"PRO":1,"GLU":3.8,"FRU":2.2,"TRE":3,"CIT":2,"CYS":1.6,"OXA":2,"ARA":1,"MAL":1},
{"r":24,"l":"Cu/As 1000/100","AKGA":3.9,"WAT":0,"LYS":0,"ACYC":0,"GABA":0.3,"ARG":0.3,"NAGA":0.5,"PRO":0.5,"GLU":3,"FRU":1.5,"TRE":4,"CIT":3,"CYS":1.6,"OXA":2,"ARA":1.7,"MAL":1.7},
{"r":25,"l":"Cu/As 500/50","AKGA":3.7,"WAT":0,"LYS":0,"ACYC":0,"GABA":0.6,"ARG":0.3,"NAGA":0.5,"PRO":0.5,"GLU":2.1,"FRU":3.7,"TRE":4,"CIT":3,"CYS":1.1,"OXA":1.5,"ARA":1.6,"MAL":1.1},
{"r":26,"l":"Cu 300","AKGA":4,"WAT":0,"LYS":0,"ACYC":0,"GABA":0.3,"ARG":1,"NAGA":0.5,"PRO":1,"GLU":3.1,"FRU":3.1,"TRE":3.9,"CIT":1.6,"CYS":1.6,"OXA":2.1,"ARA":1,"MAL":1.1},
{"r":27,"l":"Cu 500","AKGA":3.9,"WAT":0,"LYS":0.3,"ACYC":0,"GABA":0.3,"ARG":0.7,"NAGA":0.5,"PRO":0.5,"GLU":3.8,"FRU":2.2,"TRE":4.1,"CIT":1,"CYS":1.6,"OXA":1.6,"ARA":1.6,"MAL":1.1},
{"r":28,"l":"Cu/As 500/50","AKGA":3,"WAT":0,"LYS":0,"ACYC":0,"GABA":0.3,"ARG":0.5,"NAGA":0.5,"PRO":1,"GLU":3,"FRU":3.9,"TRE":4,"CIT":0.1,"CYS":1.6,"OXA":2,"ARA":1.5,"MAL":2.1},
{"r":29,"l":"Cu 500","AKGA":3,"WAT":0,"LYS":0,"ACYC":0.3,"GABA":0.3,"ARG":0.5,"NAGA":0.5,"PRO":0.5,"GLU":2.1,"FRU":3,"TRE":3,"CIT":4.4,"CYS":1.6,"OXA":1.6,"ARA":1.1,"MAL":1.1},
{"r":30,"l":"Cu/As 1000/100","AKGA":3.9,"WAT":0,"LYS":0,"ACYC":0,"GABA":0.6,"ARG":0.3,"NAGA":1,"PRO":0.5,"GLU":3,"FRU":3,"TRE":2.1,"CIT":3,"CYS":1.6,"OXA":2,"ARA":1.1,"MAL":1.5},
{"r":31,"l":"Cu/As 1000/100","AKGA":3.9,"WAT":0,"LYS":0,"ACYC":0,"GABA":1.2,"ARG":0.5,"NAGA":0.5,"PRO":0.5,"GLU":3,"FRU":4,"TRE":2.1,"CIT":1.7,"CYS":2,"OXA":2,"ARA":1.1,"MAL":1.1},
{"r":32,"l":"Cu 300","AKGA":4.4,"WAT":0,"LYS":0,"ACYC":0,"GABA":0.3,"ARG":0.5,"NAGA":0.5,"PRO":1,"GLU":2.1,"FRU":3.8,"TRE":1.5,"CIT":2.1,"CYS":1.6,"OXA":2,"ARA":0.5,"MAL":1.8},
{"r":33,"l":"Cu 150","AKGA":4.4,"WAT":0,"LYS":0,"ACYC":0,"GABA":0.3,"ARG":0.5,"NAGA":0.5,"PRO":0.5,"GLU":2.1,"FRU":2,"TRE":1.1,"CIT":3.8,"CYS":1.6,"OXA":2,"ARA":0.5,"MAL":1.8},
{"r":34,"l":"Cu 500","AKGA":3.8,"WAT":0,"LYS":0,"ACYC":0,"GABA":0.3,"ARG":0.6,"NAGA":1.4,"PRO":1,"GLU":3.8,"FRU":2.1,"TRE":3.8,"CIT":1.7,"CYS":1.7,"OXA":2,"ARA":0.5,"MAL":1.7},
{"r":35,"l":"Cu 150","AKGA":4,"WAT":0,"LYS":0,"ACYC":0,"GABA":0.3,"ARG":0.3,"NAGA":1.2,"PRO":1.3,"GLU":4,"FRU":1.7,"TRE":2.1,"CIT":1.7,"CYS":1.7,"OXA":3,"ARA":1.5,"MAL":1},
{"r":36,"l":"Cu 1000","AKGA":4.7,"WAT":0,"LYS":0.3,"ACYC":0,"GABA":0.3,"ARG":0.6,"NAGA":2,"PRO":0.1,"GLU":2.1,"FRU":1.6,"TRE":2.1,"CIT":2,"CYS":1.1,"OXA":1.6,"ARA":1.1,"MAL":1.5},
{"r":37,"l":"Cu 1000","AKGA":4,"WAT":0,"LYS":0,"ACYC":0.3,"GABA":0.3,"ARG":0.6,"NAGA":1.5,"PRO":0.4,"GLU":1.3,"FRU":3.2,"TRE":4,"CIT":2.1,"CYS":1.1,"OXA":3,"ARA":1.1,"MAL":1},
{"r":38,"l":"Cu 1000","AKGA":3,"WAT":0,"LYS":0,"ACYC":0,"GABA":0.3,"ARG":1.1,"NAGA":1.1,"PRO":0.5,"GLU":1.8,"FRU":2,"TRE":2,"CIT":0.3,"CYS":4.7,"OXA":2,"ARA":1.1,"MAL":1}
],
"At":[{"a":2.5,"b":3.5,"h":8.6,"ha":6,"hb":6},{"a":1.5,"b":3,"h":13.3,"ha":6,"hb":8.6},{"a":5.5,"b":6.5,"h":11.5,"ha":6,"hb":6},{"a":4.5,"b":6,"h":12.5,"ha":6,"hb":11.5},{"a":8.5,"b":9.5,"h":11.5,"ha":6,"hb":6},{"a":7.5,"b":9,"h":13.5,"ha":6,"hb":11.5},{"a":5.25,"b":8.25,"h":19.3,"ha":12.5,"hb":13.5},{"a":2.25,"b":6.75,"h":33.6,"ha":13.3,"hb":19.3},{"a":11.5,"b":12.5,"h":14,"ha":6,"hb":6},{"a":10.5,"b":12,"h":21.3,"ha":6,"hb":14},{"a":14.5,"b":15.5,"h":14.3,"ha":6,"hb":6},{"a":13.5,"b":15,"h":22.6,"ha":6,"hb":14.3},{"a":11.25,"b":14.25,"h":44.6,"ha":21.3,"hb":22.6},{"a":4.5,"b":12.75,"h":89.6,"ha":33.6,"hb":44.6},{"a":0.5,"b":8.625,"h":146.6,"ha":6,"hb":89.6}],
"Bt":[{"a":1.5,"b":2.5,"h":14.7,"ha":6,"hb":6},{"a":3.5,"b":4.5,"h":15.7,"ha":6,"hb":6},{"a":2,"b":4,"h":23.3,"ha":14.7,"hb":15.7},{"a":6.5,"b":7.5,"h":14.3,"ha":6,"hb":6},{"a":5.5,"b":7,"h":17,"ha":6,"hb":14.3},{"a":3,"b":6.25,"h":28,"ha":23.3,"hb":17},{"a":9.5,"b":10.5,"h":16,"ha":6,"hb":6},{"a":8.5,"b":10,"h":20,"ha":6,"hb":16},{"a":11.5,"b":12.5,"h":19,"ha":6,"hb":6},{"a":14.5,"b":15.5,"h":13.3,"ha":6,"hb":6},{"a":13.5,"b":15,"h":22,"ha":6,"hb":13.3},{"a":12,"b":14.25,"h":26.3,"ha":19,"hb":22},{"a":9.25,"b":13.125,"h":40.7,"ha":20,"hb":26.3},{"a":4.625,"b":11.19,"h":65.7,"ha":28,"hb":40.7},{"a":0.5,"b":7.9,"h":146.7,"ha":6,"hb":65.7}],
"Ct":[{"a":2.5,"b":3.5,"h":11.3,"ha":5,"hb":5},{"a":1.5,"b":3,"h":16,"ha":5,"hb":11.3},{"a":4.5,"b":5.5,"h":17,"ha":5,"hb":5},{"a":6.5,"b":7.5,"h":15,"ha":5,"hb":5},{"a":5,"b":7,"h":24.3,"ha":17,"hb":15},{"a":2.25,"b":6,"h":35.3,"ha":16,"hb":24.3},{"a":9.5,"b":10.5,"h":23,"ha":5,"hb":5},{"a":8.5,"b":10,"h":24,"ha":5,"hb":23},{"a":12.5,"b":13.5,"h":17.7,"ha":5,"hb":5},{"a":14.5,"b":15.5,"h":18.3,"ha":5,"hb":5},{"a":13,"b":15,"h":27,"ha":17.7,"hb":18.3},{"a":11.5,"b":14,"h":32.3,"ha":5,"hb":27},{"a":9.25,"b":12.75,"h":50,"ha":24,"hb":32.3},{"a":4.125,"b":11,"h":84.3,"ha":35.3,"hb":50},{"a":0.5,"b":7.56,"h":146,"ha":5,"hb":84.3}],
"Al":[{"a":0.5,"b":1.5,"h":9,"ha":1,"hb":1},{"a":1,"b":2.5,"h":11,"ha":9,"hb":1},{"a":1.75,"b":3.5,"h":13,"ha":11,"hb":1},{"a":4.5,"b":5.5,"h":10,"ha":1,"hb":1},{"a":2.625,"b":5,"h":15,"ha":13,"hb":10},{"a":7.5,"b":8.5,"h":9,"ha":1,"hb":1},{"a":6.5,"b":8,"h":9.5,"ha":1,"hb":9},{"a":3.8,"b":7.25,"h":19,"ha":15,"hb":9.5},{"a":9.5,"b":10.5,"h":9,"ha":1,"hb":1},{"a":10,"b":11.5,"h":11,"ha":9,"hb":1},{"a":12.5,"b":13.5,"h":5,"ha":1,"hb":1},{"a":13,"b":14.5,"h":11,"ha":5,"hb":1},{"a":10.75,"b":13.75,"h":15,"ha":11,"hb":11},{"a":5.5,"b":12.25,"h":36,"ha":19,"hb":15},{"a":16.5,"b":17.5,"h":6,"ha":1,"hb":1},{"a":15.5,"b":17,"h":6.5,"ha":1,"hb":6},{"a":16.25,"b":18.5,"h":12,"ha":6.5,"hb":1},{"a":20.5,"b":21.5,"h":4,"ha":1,"hb":1},{"a":19.5,"b":21,"h":5,"ha":1,"hb":4},{"a":20.25,"b":22.5,"h":10,"ha":5,"hb":1},{"a":17.4,"b":21.4,"h":13.5,"ha":12,"hb":10},{"a":19.4,"b":23.5,"h":23,"ha":13.5,"hb":1},{"a":8.875,"b":21.45,"h":57,"ha":36,"hb":23},{"a":24.5,"b":25.5,"h":5,"ha":1,"hb":1},{"a":25,"b":26.5,"h":6,"ha":5,"hb":1},{"a":27.5,"b":28.5,"h":9,"ha":1,"hb":1},{"a":25.75,"b":28,"h":11,"ha":6,"hb":9},{"a":29.5,"b":30.5,"h":6,"ha":1,"hb":1},{"a":31.5,"b":32.5,"h":10,"ha":1,"hb":1},{"a":30,"b":32,"h":11,"ha":6,"hb":10},{"a":26.9,"b":31,"h":16,"ha":11,"hb":11},{"a":33.5,"b":34.5,"h":10,"ha":1,"hb":1},{"a":35.5,"b":36.5,"h":8,"ha":1,"hb":1},{"a":34,"b":36,"h":11,"ha":10,"hb":8},{"a":37.5,"b":38.5,"h":11,"ha":1,"hb":1},{"a":35,"b":38,"h":12.5,"ha":11,"hb":11},{"a":28.95,"b":36.5,"h":23,"ha":16,"hb":12.5},{"a":15.16,"b":32.7,"h":80,"ha":57,"hb":23}],
"Bl":[{"a":0.5,"b":1.5,"h":14,"ha":1,"hb":1},{"a":1,"b":2.5,"h":16,"ha":14,"hb":1},{"a":3.5,"b":4.5,"h":8,"ha":1,"hb":1},{"a":4,"b":5.5,"h":11,"ha":8,"hb":1},{"a":1.75,"b":4.75,"h":19,"ha":16,"hb":11},{"a":6.5,"b":7.5,"h":12,"ha":1,"hb":1},{"a":3.25,"b":7,"h":25,"ha":19,"hb":12},{"a":8.5,"b":9.5,"h":8,"ha":1,"hb":1},{"a":10.5,"b":11.5,"h":8,"ha":1,"hb":1},{"a":9,"b":11,"h":12,"ha":8,"hb":8},{"a":10,"b":12.5,"h":16,"ha":12,"hb":1},{"a":13.5,"b":14.5,"h":12,"ha":1,"hb":1},{"a":11.25,"b":14,"h":23,"ha":16,"hb":12},{"a":5.125,"b":12.6,"h":36.3,"ha":25,"hb":23},{"a":15.5,"b":16.5,"h":8,"ha":1,"hb":1},{"a":16,"b":17.5,"h":11,"ha":8,"hb":1},{"a":18.5,"b":19.5,"h":11,"ha":1,"hb":1},{"a":16.75,"b":19,"h":14,"ha":11,"hb":11},{"a":20.5,"b":21.5,"h":10,"ha":1,"hb":1},{"a":22.5,"b":23.5,"h":13,"ha":1,"hb":1},{"a":21,"b":23,"h":16,"ha":10,"hb":13},{"a":17.9,"b":22,"h":25,"ha":14,"hb":16},{"a":8.86,"b":19.95,"h":48,"ha":36.3,"hb":25},{"a":25.5,"b":26.5,"h":6,"ha":1,"hb":1},{"a":24.5,"b":26,"h":8,"ha":1,"hb":6},{"a":25.25,"b":27.5,"h":18.7,"ha":8,"hb":1},{"a":14.4,"b":26.4,"h":52.5,"ha":48,"hb":18.7},{"a":28.5,"b":29.5,"h":9,"ha":1,"hb":1},{"a":29,"b":30.5,"h":14.7,"ha":9,"hb":1},{"a":29.75,"b":31.5,"h":19,"ha":14.7,"hb":1},{"a":32.5,"b":33.5,"h":17,"ha":1,"hb":1},{"a":33,"b":34.5,"h":19,"ha":17,"hb":1},{"a":30.6,"b":33.75,"h":31,"ha":19,"hb":19},{"a":35.5,"b":36.5,"h":11,"ha":1,"hb":1},{"a":36,"b":37.5,"h":17,"ha":11,"hb":1},{"a":32.2,"b":36.75,"h":38,"ha":31,"hb":17},{"a":34.5,"b":38.5,"h":51,"ha":38,"hb":1},{"a":20.4,"b":36.5,"h":80,"ha":52.5,"hb":51}],
"Cl":[{"a":0.5,"b":1.5,"h":10,"ha":1,"hb":1},{"a":1,"b":2.5,"h":13,"ha":10,"hb":1},{"a":3.5,"b":4.5,"h":14,"ha":1,"hb":1},{"a":1.75,"b":4,"h":19,"ha":13,"hb":14},{"a":2.875,"b":5.5,"h":24,"ha":19,"hb":1},{"a":6.5,"b":7.5,"h":14.7,"ha":1,"hb":1},{"a":7,"b":8.5,"h":19,"ha":14.7,"hb":1},{"a":4.19,"b":7.75,"h":26,"ha":24,"hb":19},{"a":9.5,"b":10.5,"h":8,"ha":1,"hb":1},{"a":11.5,"b":12.5,"h":8,"ha":1,"hb":1},{"a":10,"b":12,"h":11,"ha":8,"hb":8},{"a":13.5,"b":14.5,"h":10,"ha":1,"hb":1},{"a":11,"b":14,"h":13,"ha":11,"hb":10},{"a":5.97,"b":12.5,"h":27.5,"ha":26,"hb":13},{"a":15.5,"b":16.5,"h":11,"ha":1,"hb":1},{"a":16,"b":17.5,"h":14.7,"ha":11,"hb":1},{"a":16.75,"b":18.5,"h":17,"ha":14.7,"hb":1},{"a":17.6,"b":19.5,"h":20,"ha":17,"hb":1},{"a":18.55,"b":20.5,"h":25.3,"ha":20,"hb":1},{"a":9.23,"b":19.5,"h":44.7,"ha":27.5,"hb":25.3},{"a":21.5,"b":22.5,"h":10,"ha":1,"hb":1},{"a":23.5,"b":24.5,"h":8,"ha":1,"hb":1},{"a":22,"b":24,"h":14,"ha":10,"hb":8},{"a":23,"b":25.5,"h":18.7,"ha":14,"hb":1},{"a":26.5,"b":27.5,"h":10,"ha":1,"hb":1},{"a":27,"b":28.5,"h":14,"ha":10,"hb":1},{"a":24.25,"b":27.75,"h":19.5,"ha":18.7,"hb":14},{"a":26,"b":29.5,"h":29,"ha":19.5,"hb":1},{"a":30.5,"b":31.5,"h":11,"ha":1,"hb":1},{"a":32.5,"b":33.5,"h":10,"ha":1,"hb":1},{"a":31,"b":33,"h":16,"ha":11,"hb":10},{"a":34.5,"b":35.5,"h":10,"ha":1,"hb":1},{"a":32,"b":35,"h":20,"ha":16,"hb":10},{"a":36.5,"b":37.5,"h":11,"ha":1,"hb":1},{"a":33.5,"b":37,"h":23,"ha":20,"hb":11},{"a":35.25,"b":38.5,"h":24.7,"ha":23,"hb":1},{"a":27.75,"b":36.9,"h":34,"ha":29,"hb":24.7},{"a":14.4,"b":32.3,"h":80,"ha":44.7,"hb":34}],
"Ag":[{"g":"1","p":0.5,"e":0},{"g":"5","p":2.5,"e":1},{"g":"4","p":7.07,"e":4},{"g":"3","p":11.5,"e":10},{"g":"2","p":14.66,"e":13},{"e":16}],
"Bg":[{"g":"1","p":0.5,"e":0},{"g":"5","p":2.9,"e":1},{"g":"4","p":6.4,"e":5},{"g":"2","p":9.5,"e":8},{"g":"3","p":13.4,"e":11},{"e":16}],
"Cg":[{"g":"1","p":0.5,"e":0},{"g":"5","p":2.5,"e":1},{"g":"4","p":6,"e":4},{"g":"2","p":9.5,"e":8},{"g":"3","p":13.4,"e":11},{"e":16}],
"edge":[{"q":0},{"q":39}]
},
"hconcat":[
{"width":461,"height":693,"resolve":{"scale":{"x":"independent","y":"independent"}},"layer":[
{"data":{"name":"A"},"transform":[{"fold":["AKGA","WAT","LYS","ACYC","CYS","GABA","ARG","OXA","PRO","NAGA","MAL","ARA","CIT","GLU","FRU","TRE"],"as":["k","v"]}],"mark":{"type":"rect","strokeWidth":0.4},"encoding":{"x":{"field":"k","type":"nominal","scale":{"domain":["AKGA","WAT","LYS","ACYC","CYS","GABA","ARG","OXA","PRO","NAGA","MAL","ARA","CIT","GLU","FRU","TRE"],"range":[100.5,360],"padding":0},"axis":{"orient":"bottom","offset":-36,"title":null,"domain":false,"ticks":false,"labelAngle":270,"labelPadding":4,"labelFontSize":12,"labelColor":"#333","grid":false}},"y":{"field":"r","type":"ordinal","scale":{"domain":[0,1,2,3,4,5,6,7,8,9,10,11,12,13,14,15,16,17,18,19,20,21,22,23,24,25,26,27,28,29,30,31,32,33,34,35,36,37,38],"range":[197.3,657],"padding":0},"axis":null},"color":{"field":"v","type":"quantitative","scale":{"type":"linear","domain":[0,2.5,4,4.77,5],"range":["#fc3a26","#fb8a28","#ffe800","#faf0c4","#ffffff"],"interpolate":"rgb"},"legend":null},"stroke":{"field":"v","type":"quantitative","scale":{"type":"linear","domain":[0,2.5,4,4.77,5],"range":["#fc3a26","#fb8a28","#ffe800","#faf0c4","#ffffff"],"interpolate":"rgb"},"legend":null}}},
{"data":{"name":"Ag"},"mark":{"type":"rule","stroke":"#3a3a3a","strokeWidth":1.2},"encoding":{"x":{"field":"e","type":"quantitative","scale":{"domain":[0,16],"range":[100.5,360],"nice":false},"axis":null},"y":{"datum":0,"type":"quantitative","scale":{"domain":[0,39],"range":[197.3,657],"nice":false},"axis":null},"y2":{"datum":39}}},
{"data":{"name":"edge"},"mark":{"type":"rule","stroke":"#3a3a3a","strokeWidth":1.2},"encoding":{"y":{"field":"q","type":"quantitative","scale":{"domain":[0,39],"range":[197.3,657],"nice":false},"axis":null},"x":{"datum":0,"type":"quantitative","scale":{"domain":[0,16],"range":[100.5,360],"nice":false},"axis":null},"x2":{"datum":16}}},
{"data":{"name":"Ag"},"transform":[{"filter":"datum.g"}],"mark":{"type":"text","fontSize":10.5,"fill":"#333"},"encoding":{"x":{"field":"p","type":"quantitative","scale":{"domain":[0,16],"range":[100.5,360],"nice":false},"axis":null},"y":{"datum":1.08,"type":"quantitative","scale":{"domain":[0,39],"range":[197.3,657],"nice":false},"axis":null},"text":{"field":"g"}}},
{"data":{"name":"A"},"mark":{"type":"text","align":"left","fontSize":12,"fill":"#333"},"encoding":{"y":{"field":"r","type":"quantitative","scale":{"domain":[-0.5,38.5],"range":[197.3,657],"nice":false},"axis":null},"x":{"datum":16.37,"type":"quantitative","scale":{"domain":[0,16],"range":[100.5,360],"nice":false},"axis":null},"text":{"field":"l"}}},
{"data":{"name":"At"},"mark":{"type":"rule","stroke":"#4a4a4a","strokeWidth":1.2},"encoding":{"x":{"field":"a","type":"quantitative","scale":{"domain":[0,16],"range":[100.5,360],"nice":false},"axis":null},"x2":{"field":"b"},"y":{"field":"h","type":"quantitative","scale":{"domain":[0,200],"range":[197.3,-2.7],"nice":false},"axis":null}}},
{"data":{"name":"At"},"mark":{"type":"rule","stroke":"#4a4a4a","strokeWidth":1.2},"encoding":{"x":{"field":"a","type":"quantitative","scale":{"domain":[0,16],"range":[100.5,360],"nice":false},"axis":null},"y":{"field":"h","type":"quantitative","scale":{"domain":[0,200],"range":[197.3,-2.7],"nice":false},"axis":null},"y2":{"field":"ha"}}},
{"data":{"name":"At"},"mark":{"type":"rule","stroke":"#4a4a4a","strokeWidth":1.2},"encoding":{"x":{"field":"b","type":"quantitative","scale":{"domain":[0,16],"range":[100.5,360],"nice":false},"axis":null},"y":{"field":"h","type":"quantitative","scale":{"domain":[0,200],"range":[197.3,-2.7],"nice":false},"axis":null},"y2":{"field":"hb"}}},
{"data":{"name":"Al"},"mark":{"type":"rule","stroke":"#4a4a4a","strokeWidth":1.2},"encoding":{"y":{"field":"a","type":"quantitative","scale":{"domain":[0,39],"range":[197.3,657],"nice":false},"axis":null},"y2":{"field":"b"},"x":{"field":"h","type":"quantitative","scale":{"domain":[0,100],"range":[100.5,0.5],"nice":false},"axis":null}}},
{"data":{"name":"Al"},"mark":{"type":"rule","stroke":"#4a4a4a","strokeWidth":1.2},"encoding":{"y":{"field":"a","type":"quantitative","scale":{"domain":[0,39],"range":[197.3,657],"nice":false},"axis":null},"x":{"field":"h","type":"quantitative","scale":{"domain":[0,100],"range":[100.5,0.5],"nice":false},"axis":null},"x2":{"field":"ha"}}},
{"data":{"name":"Al"},"mark":{"type":"rule","stroke":"#4a4a4a","strokeWidth":1.2},"encoding":{"y":{"field":"b","type":"quantitative","scale":{"domain":[0,39],"range":[197.3,657],"nice":false},"axis":null},"x":{"field":"h","type":"quantitative","scale":{"domain":[0,100],"range":[100.5,0.5],"nice":false},"axis":null},"x2":{"field":"hb"}}},
{"data":{"values":[{"p":-5.07,"p2":-4.45,"h":146.6,"h2":-42.7}]},"mark":{"type":"rect","stroke":"#333","strokeWidth":1,"fill":{"gradient":"linear","x1":0,"y1":0,"x2":0,"y2":1,"stops":[{"offset":0,"color":"#fc3a26"},{"offset":0.45,"color":"#fb8a28"},{"offset":0.8,"color":"#ffe000"},{"offset":0.87,"color":"#ffe860"},{"offset":0.93,"color":"#ffffff"},{"offset":1,"color":"#ffffff"}]}},"encoding":{"x":{"field":"p","type":"quantitative","scale":{"domain":[0,16],"range":[100.5,360],"nice":false},"axis":null},"x2":{"field":"p2"},"y":{"field":"h","type":"quantitative","scale":{"domain":[0,200],"range":[197.3,-2.7],"nice":false},"axis":null},"y2":{"field":"h2"}}},
{"data":{"values":[{"t":"Week 4","p":7.98,"h":171,"s":19,"an":0},{"t":"ug CO2-C g-1 h-1","p":-3.98,"h":50.3,"s":12,"an":270},{"t":"A","p":-4.78,"h":-452.7,"s":22,"an":0},{"t":"0","p":-3.915,"h":139.3,"s":14,"an":0},{"t":"5","p":-3.915,"h":-38.4,"s":14,"an":0}]},"mark":{"type":"text","fill":"#333"},"encoding":{"x":{"field":"p","type":"quantitative","scale":{"domain":[0,16],"range":[100.5,360],"nice":false},"axis":null},"y":{"field":"h","type":"quantitative","scale":{"domain":[0,200],"range":[197.3,-2.7],"nice":false},"axis":null},"text":{"field":"t"},"size":{"field":"s","type":"quantitative","scale":null},"angle":{"field":"an","type":"quantitative","scale":null}}}
]},
{"width":461,"height":693,"resolve":{"scale":{"x":"independent","y":"independent"}},"layer":[
{"data":{"name":"B"},"transform":[{"fold":["AKGA","WAT","ARG","ACYC","LYS","GABA","NAGA","PRO","GLU","FRU","TRE","CYS","ARA","OXA","MAL","CIT"],"as":["k","v"]}],"mark":{"type":"rect","strokeWidth":0.4},"encoding":{"x":{"field":"k","type":"nominal","scale":{"domain":["AKGA","WAT","ARG","ACYC","LYS","GABA","NAGA","PRO","GLU","FRU","TRE","CYS","ARA","OXA","MAL","CIT"],"range":[101,361],"padding":0},"axis":{"orient":"bottom","offset":-33.5,"title":null,"domain":false,"ticks":false,"labelAngle":270,"labelPadding":4,"labelFontSize":12,"labelColor":"#333","grid":false}},"y":{"field":"r","type":"ordinal","scale":{"domain":[0,1,2,3,4,5,6,7,8,9,10,11,12,13,14,15,16,17,18,19,20,21,22,23,24,25,26,27,28,29,30,31,32,33,34,35,36,37,38],"range":[200,659.5],"padding":0},"axis":null},"color":{"field":"v","type":"quantitative","scale":{"type":"linear","domain":[0,2.5,4,4.77,5],"range":["#fc3a26","#fb8a28","#ffe800","#faf0c4","#ffffff"],"interpolate":"rgb"},"legend":null},"stroke":{"field":"v","type":"quantitative","scale":{"type":"linear","domain":[0,2.5,4,4.77,5],"range":["#fc3a26","#fb8a28","#ffe800","#faf0c4","#ffffff"],"interpolate":"rgb"},"legend":null}}},
{"data":{"name":"Bg"},"mark":{"type":"rule","stroke":"#3a3a3a","strokeWidth":1.2},"encoding":{"x":{"field":"e","type":"quantitative","scale":{"domain":[0,16],"range":[101,361],"nice":false},"axis":null},"y":{"datum":0,"type":"quantitative","scale":{"domain":[0,39],"range":[200,659.5],"nice":false},"axis":null},"y2":{"datum":39}}},
{"data":{"name":"edge"},"mark":{"type":"rule","stroke":"#3a3a3a","strokeWidth":1.2},"encoding":{"y":{"field":"q","type":"quantitative","scale":{"domain":[0,39],"range":[200,659.5],"nice":false},"axis":null},"x":{"datum":0,"type":"quantitative","scale":{"domain":[0,16],"range":[101,361],"nice":false},"axis":null},"x2":{"datum":16}}},
{"data":{"name":"Bg"},"transform":[{"filter":"datum.g"}],"mark":{"type":"text","fontSize":10.5,"fill":"#333"},"encoding":{"x":{"field":"p","type":"quantitative","scale":{"domain":[0,16],"range":[101,361],"nice":false},"axis":null},"y":{"datum":1,"type":"quantitative","scale":{"domain":[0,39],"range":[200,659.5],"nice":false},"axis":null},"text":{"field":"g"}}},
{"data":{"name":"B"},"mark":{"type":"text","align":"left","fontSize":12,"fill":"#333"},"encoding":{"y":{"field":"r","type":"quantitative","scale":{"domain":[-0.5,38.5],"range":[200,659.5],"nice":false},"axis":null},"x":{"datum":16.3,"type":"quantitative","scale":{"domain":[0,16],"range":[101,361],"nice":false},"axis":null},"text":{"field":"l"}}},
{"data":{"name":"Bt"},"mark":{"type":"rule","stroke":"#4a4a4a","strokeWidth":1.2},"encoding":{"x":{"field":"a","type":"quantitative","scale":{"domain":[0,16],"range":[101,361],"nice":false},"axis":null},"x2":{"field":"b"},"y":{"field":"h","type":"quantitative","scale":{"domain":[0,200],"range":[200,0],"nice":false},"axis":null}}},
{"data":{"name":"Bt"},"mark":{"type":"rule","stroke":"#4a4a4a","strokeWidth":1.2},"encoding":{"x":{"field":"a","type":"quantitative","scale":{"domain":[0,16],"range":[101,361],"nice":false},"axis":null},"y":{"field":"h","type":"quantitative","scale":{"domain":[0,200],"range":[200,0],"nice":false},"axis":null},"y2":{"field":"ha"}}},
{"data":{"name":"Bt"},"mark":{"type":"rule","stroke":"#4a4a4a","strokeWidth":1.2},"encoding":{"x":{"field":"b","type":"quantitative","scale":{"domain":[0,16],"range":[101,361],"nice":false},"axis":null},"y":{"field":"h","type":"quantitative","scale":{"domain":[0,200],"range":[200,0],"nice":false},"axis":null},"y2":{"field":"hb"}}},
{"data":{"name":"Bl"},"mark":{"type":"rule","stroke":"#4a4a4a","strokeWidth":1.2},"encoding":{"y":{"field":"a","type":"quantitative","scale":{"domain":[0,39],"range":[200,659.5],"nice":false},"axis":null},"y2":{"field":"b"},"x":{"field":"h","type":"quantitative","scale":{"domain":[0,100],"range":[101,1],"nice":false},"axis":null}}},
{"data":{"name":"Bl"},"mark":{"type":"rule","stroke":"#4a4a4a","strokeWidth":1.2},"encoding":{"y":{"field":"a","type":"quantitative","scale":{"domain":[0,39],"range":[200,659.5],"nice":false},"axis":null},"x":{"field":"h","type":"quantitative","scale":{"domain":[0,100],"range":[101,1],"nice":false},"axis":null},"x2":{"field":"ha"}}},
{"data":{"name":"Bl"},"mark":{"type":"rule","stroke":"#4a4a4a","strokeWidth":1.2},"encoding":{"y":{"field":"b","type":"quantitative","scale":{"domain":[0,39],"range":[200,659.5],"nice":false},"axis":null},"x":{"field":"h","type":"quantitative","scale":{"domain":[0,100],"range":[101,1],"nice":false},"axis":null},"x2":{"field":"hb"}}},
{"data":{"values":[{"t":"Week 8","p":7.98,"h":174,"s":19},{"t":"B","p":-4.63,"h":-451,"s":22}]},"mark":{"type":"text","fill":"#333"},"encoding":{"x":{"field":"p","type":"quantitative","scale":{"domain":[0,16],"range":[101,361],"nice":false},"axis":null},"y":{"field":"h","type":"quantitative","scale":{"domain":[0,200],"range":[200,0],"nice":false},"axis":null},"text":{"field":"t"},"size":{"field":"s","type":"quantitative","scale":null}}}
]},
{"width":462,"height":693,"resolve":{"scale":{"x":"independent","y":"independent"}},"layer":[
{"data":{"name":"C"},"transform":[{"fold":["AKGA","WAT","LYS","ACYC","GABA","ARG","NAGA","PRO","GLU","FRU","TRE","CIT","CYS","OXA","ARA","MAL"],"as":["k","v"]}],"mark":{"type":"rect","strokeWidth":0.4},"encoding":{"x":{"field":"k","type":"nominal","scale":{"domain":["AKGA","WAT","LYS","ACYC","GABA","ARG","NAGA","PRO","GLU","FRU","TRE","CIT","CYS","OXA","ARA","MAL"],"range":[110,370],"padding":0},"axis":{"orient":"bottom","offset":-27.3,"title":null,"domain":false,"ticks":false,"labelAngle":270,"labelPadding":4,"labelFontSize":12,"labelColor":"#333","grid":false}},"y":{"field":"r","type":"ordinal","scale":{"domain":[0,1,2,3,4,5,6,7,8,9,10,11,12,13,14,15,16,17,18,19,20,21,22,23,24,25,26,27,28,29,30,31,32,33,34,35,36,37,38],"range":[205,665.7],"padding":0},"axis":null},"color":{"field":"v","type":"quantitative","scale":{"type":"linear","domain":[0,2.5,4,4.77,5],"range":["#fc3a26","#fb8a28","#ffe800","#faf0c4","#ffffff"],"interpolate":"rgb"},"legend":null},"stroke":{"field":"v","type":"quantitative","scale":{"type":"linear","domain":[0,2.5,4,4.77,5],"range":["#fc3a26","#fb8a28","#ffe800","#faf0c4","#ffffff"],"interpolate":"rgb"},"legend":null}}},
{"data":{"name":"Cg"},"mark":{"type":"rule","stroke":"#3a3a3a","strokeWidth":1.2},"encoding":{"x":{"field":"e","type":"quantitative","scale":{"domain":[0,16],"range":[110,370],"nice":false},"axis":null},"y":{"datum":0,"type":"quantitative","scale":{"domain":[0,39],"range":[205,665.7],"nice":false},"axis":null},"y2":{"datum":39}}},
{"data":{"name":"edge"},"mark":{"type":"rule","stroke":"#3a3a3a","strokeWidth":1.2},"encoding":{"y":{"field":"q","type":"quantitative","scale":{"domain":[0,39],"range":[205,665.7],"nice":false},"axis":null},"x":{"datum":0,"type":"quantitative","scale":{"domain":[0,16],"range":[110,370],"nice":false},"axis":null},"x2":{"datum":16}}},
{"data":{"name":"Cg"},"transform":[{"filter":"datum.g"}],"mark":{"type":"text","fontSize":10.5,"fill":"#333"},"encoding":{"x":{"field":"p","type":"quantitative","scale":{"domain":[0,16],"range":[110,370],"nice":false},"axis":null},"y":{"datum":1.07,"type":"quantitative","scale":{"domain":[0,39],"range":[205,665.7],"nice":false},"axis":null},"text":{"field":"g"}}},
{"data":{"name":"C"},"mark":{"type":"text","align":"left","fontSize":12,"fill":"#333"},"encoding":{"y":{"field":"r","type":"quantitative","scale":{"domain":[-0.5,38.5],"range":[205,665.7],"nice":false},"axis":null},"x":{"datum":16.3,"type":"quantitative","scale":{"domain":[0,16],"range":[110,370],"nice":false},"axis":null},"text":{"field":"l"}}},
{"data":{"name":"Ct"},"mark":{"type":"rule","stroke":"#4a4a4a","strokeWidth":1.2},"encoding":{"x":{"field":"a","type":"quantitative","scale":{"domain":[0,16],"range":[110,370],"nice":false},"axis":null},"x2":{"field":"b"},"y":{"field":"h","type":"quantitative","scale":{"domain":[0,200],"range":[205,5],"nice":false},"axis":null}}},
{"data":{"name":"Ct"},"mark":{"type":"rule","stroke":"#4a4a4a","strokeWidth":1.2},"encoding":{"x":{"field":"a","type":"quantitative","scale":{"domain":[0,16],"range":[110,370],"nice":false},"axis":null},"y":{"field":"h","type":"quantitative","scale":{"domain":[0,200],"range":[205,5],"nice":false},"axis":null},"y2":{"field":"ha"}}},
{"data":{"name":"Ct"},"mark":{"type":"rule","stroke":"#4a4a4a","strokeWidth":1.2},"encoding":{"x":{"field":"b","type":"quantitative","scale":{"domain":[0,16],"range":[110,370],"nice":false},"axis":null},"y":{"field":"h","type":"quantitative","scale":{"domain":[0,200],"range":[205,5],"nice":false},"axis":null},"y2":{"field":"hb"}}},
{"data":{"name":"Cl"},"mark":{"type":"rule","stroke":"#4a4a4a","strokeWidth":1.2},"encoding":{"y":{"field":"a","type":"quantitative","scale":{"domain":[0,39],"range":[205,665.7],"nice":false},"axis":null},"y2":{"field":"b"},"x":{"field":"h","type":"quantitative","scale":{"domain":[0,100],"range":[110,10],"nice":false},"axis":null}}},
{"data":{"name":"Cl"},"mark":{"type":"rule","stroke":"#4a4a4a","strokeWidth":1.2},"encoding":{"y":{"field":"a","type":"quantitative","scale":{"domain":[0,39],"range":[205,665.7],"nice":false},"axis":null},"x":{"field":"h","type":"quantitative","scale":{"domain":[0,100],"range":[110,10],"nice":false},"axis":null},"x2":{"field":"ha"}}},
{"data":{"name":"Cl"},"mark":{"type":"rule","stroke":"#4a4a4a","strokeWidth":1.2},"encoding":{"y":{"field":"b","type":"quantitative","scale":{"domain":[0,39],"range":[205,665.7],"nice":false},"axis":null},"x":{"field":"h","type":"quantitative","scale":{"domain":[0,100],"range":[110,10],"nice":false},"axis":null},"x2":{"field":"hb"}}},
{"data":{"values":[{"t":"Week 12","p":8.29,"h":179,"s":19},{"t":"C","p":-4.63,"h":-451.7,"s":22}]},"mark":{"type":"text","fill":"#333"},"encoding":{"x":{"field":"p","type":"quantitative","scale":{"domain":[0,16],"range":[110,370],"nice":false},"axis":null},"y":{"field":"h","type":"quantitative","scale":{"domain":[0,200],"range":[205,5],"nice":false},"axis":null},"text":{"field":"t"},"size":{"field":"s","type":"quantitative","scale":null}}}
]}
]}
